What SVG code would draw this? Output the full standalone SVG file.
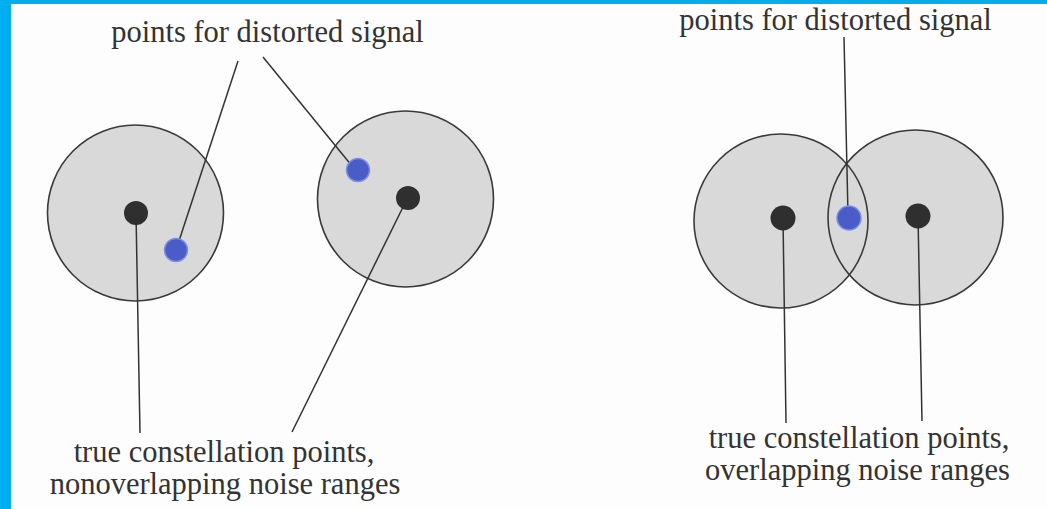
<svg xmlns="http://www.w3.org/2000/svg" width="1047" height="509" viewBox="0 0 1047 509">
<style>
.lbl{font-family:"Liberation Serif","Times New Roman",serif;font-size:30.5px;fill:#333;text-anchor:middle}
.fill{fill:#d9d9d9;stroke:none}
.ring{fill:none;stroke:#3a3a3a;stroke-width:1.6}
.lead{stroke:#333;stroke-width:1.5;fill:none}
.true{fill:#2f2f2f}
.dist{fill:#4a5cc8;stroke:#7f8fe0;stroke-width:1.5}
</style>
<rect x="0" y="0" width="1047" height="509" fill="#fdfdfd"/>
<rect x="0" y="0" width="11" height="509" fill="#00aeef"/>
<rect x="0" y="0" width="1047" height="4" fill="#00aeef"/>
<g id="range-left">
<circle class="fill" cx="135.5" cy="213" r="88"/>
<circle class="ring" cx="135.5" cy="213" r="88"/>
</g>
<g id="range-mid">
<circle class="fill" cx="405.5" cy="199" r="88"/>
<circle class="ring" cx="405.5" cy="199" r="88"/>
</g>
<g id="range-overlap">
<circle class="fill" cx="781" cy="221" r="87"/>
<circle class="fill" cx="915.5" cy="217.5" r="87.5"/>
<circle class="ring" cx="781" cy="221" r="87"/>
<circle class="ring" cx="915.5" cy="217.5" r="87.5"/>
</g>
<g id="connectors">
<line class="lead" x1="238" y1="61" x2="178" y2="244"/>
<line class="lead" x1="263" y1="57" x2="352" y2="166"/>
<line class="lead" x1="136" y1="213" x2="140" y2="433"/>
<line class="lead" x1="407" y1="199" x2="292" y2="432"/>
<line class="lead" x1="844" y1="37" x2="848" y2="215"/>
<line class="lead" x1="783" y1="218" x2="786" y2="423"/>
<line class="lead" x1="918" y1="216" x2="922" y2="421"/>
</g>
<g id="dots">
<circle class="true" cx="136" cy="213" r="12"/>
<circle class="dist" cx="176" cy="250" r="11.5"/>
<circle class="true" cx="408" cy="198" r="12"/>
<circle class="dist" cx="358" cy="170" r="11.5"/>
<circle class="true" cx="783" cy="218" r="12.5"/>
<circle class="true" cx="918" cy="216" r="12.5"/>
<circle class="dist" cx="849" cy="218" r="12"/>
</g>
<g id="label-distorted-left"><text class="lbl" x="267.5" y="42">points for distorted signal</text></g>
<g id="label-distorted-right"><text class="lbl" x="835.5" y="30">points for distorted signal</text></g>
<g id="label-true-left"><text class="lbl" x="224" y="462">true constellation points,</text><text class="lbl" x="225" y="494">nonoverlapping noise ranges</text></g>
<g id="label-true-right"><text class="lbl" x="859" y="448">true constellation points,</text><text class="lbl" x="857.5" y="480">overlapping noise ranges</text></g>
</svg>
